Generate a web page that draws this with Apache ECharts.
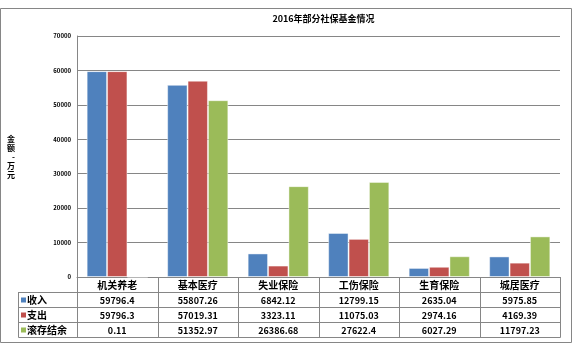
<!DOCTYPE html>
<html>
<head>
<meta charset="utf-8">
<script src="https://cdn.jsdelivr.net/npm/echarts@6/dist/echarts.min.js"></script>
<style>
  html, body { margin: 0; padding: 0; background: #fff; }
  #chart { width: 573px; height: 352px; }
</style>
</head>
<body>
<div id="chart"></div>
<script>
// 2016年部分社保基金情况
const categories = ['机关养老', '基本医疗', '失业保险', '工伤保险', '生育保险', '城居医疗'];
const seriesNames = ['收入', '支出', '滚存结余'];
const income = [59796.4, 55807.26, 6842.12, 12799.15, 2635.04, 5975.85];
const expense = [59796.3, 57019.31, 3323.11, 11075.03, 2974.16, 4169.39];
const balance = [0.11, 51352.97, 26386.68, 27622.4, 6027.29, 11797.23];
const colors = ['#4F81BD', '#C0504D', '#9BBB59'];

const L = 77, R = 560, T = 36, B = 277;
const rowH = 15, legendX = 18;
const lineColor = '#868686';
const bandW = (R - L) / categories.length;
const font = '"Noto Sans CJK SC", sans-serif';

// 数据表用 graphic 画
const graphic = [];
const line = (x1, y1, x2, y2) => graphic.push({
  type: 'line', silent: true,
  shape: { x1, y1, x2, y2 },
  style: { stroke: lineColor, lineWidth: 1 }
});
// 外框
graphic.push({
  type: 'rect', silent: true, z: -1,
  shape: { x: 0.5, y: 8.5, width: 571, height: 334 },
  style: { fill: 'none', stroke: lineColor, lineWidth: 1 }
});
const rowsTop = B + rowH;
for (let r = 0; r <= seriesNames.length; r++) {
  const y = rowsTop + r * rowH + 0.5;
  line(legendX + 0.5, y, R + 0.5, y);
}
line(legendX + 0.5, rowsTop, legendX + 0.5, rowsTop + seriesNames.length * rowH + 0.5);
for (let i = 0; i <= categories.length; i++) {
  const x = Math.round(L + i * bandW) + 0.5;
  line(x, B, x, rowsTop + seriesNames.length * rowH + 0.5);
}
const tableData = [income, expense, balance];
tableData.forEach((vals, r) => {
  const yc = rowsTop + r * rowH + rowH / 2 + 1;
  graphic.push({
    type: 'rect', silent: true,
    shape: { x: 21, y: yc - 3, width: 5, height: 5 },
    style: { fill: colors[r] }
  });
  graphic.push({
    type: 'text', silent: true,
    x: 27, y: yc,
    style: { text: seriesNames[r], font: 'bold 10px ' + font, fill: '#000', verticalAlign: 'middle' }
  });
  vals.forEach((v, i) => {
    graphic.push({
      type: 'text', silent: true,
      x: L + (i + 0.5) * bandW, y: yc,
      style: { text: String(v), font: 'bold 9px ' + font, fill: '#000', align: 'center', verticalAlign: 'middle' }
    });
  });
});

const chart = echarts.init(document.getElementById('chart'));
chart.setOption({
  animation: false,
  color: colors,
  title: {
    text: '2016年部分社保基金情况',
    left: (L + R) / 2, top: 9, textAlign: 'center',
    textStyle: { fontSize: 9, fontWeight: 'bold', color: '#000', fontFamily: font }
  },
  grid: { left: L, right: 573 - R, top: T, bottom: 352 - B, containLabel: false },
  xAxis: {
    type: 'category',
    data: categories,
    axisLine: { lineStyle: { color: lineColor } },
    axisTick: { show: false },
    axisLabel: { margin: 3, fontSize: 10, fontWeight: 'bold', color: '#000', fontFamily: font, interval: 0 }
  },
  yAxis: {
    type: 'value',
    min: 0, max: 70000, interval: 10000,
    name: '金\n额\n-\n万\n元',
    nameLocation: 'middle',
    nameRotate: 0,
    nameGap: 62,
    nameTextStyle: { fontSize: 8, fontWeight: 'bold', color: '#000', fontFamily: font, lineHeight: 9 },
    axisLine: { show: true, lineStyle: { color: lineColor } },
    axisTick: { show: false },
    splitLine: { lineStyle: { color: lineColor } },
    axisLabel: { margin: 6, fontSize: 6, fontWeight: 'bold', color: '#000', fontFamily: font, formatter: v => String(v) }
  },
  series: [income, expense, balance].map((d, i) => ({
    name: seriesNames[i],
    type: 'bar',
    data: d,
    barGap: '0%',
    barCategoryGap: '24%',
    itemStyle: { borderColor: 'rgba(255,255,255,0.45)', borderWidth: 1 }
  })),
  graphic: graphic
});
</script>
</body>
</html>
